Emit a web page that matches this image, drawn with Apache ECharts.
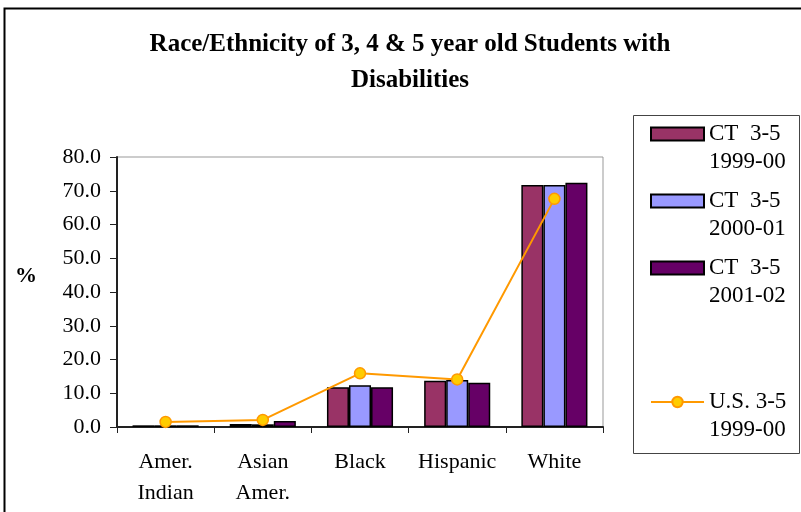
<!DOCTYPE html>
<html>
<head>
<meta charset="utf-8">
<script src="https://cdn.jsdelivr.net/npm/echarts@6/dist/echarts.min.js"></script>
<style>html,body{margin:0;padding:0;background:#fff;}#c{width:801px;height:512px;}</style>
</head>
<body>
<div id="c"></div>
<script>
const categories = ['Amer.\nIndian', 'Asian\nAmer.', 'Black', 'Hispanic', 'White'];
const ct1999 = [0.5, 0.9, 11.8, 13.7, 71.7];
const ct2000 = [0.5, 0.8, 12.4, 13.9, 71.7];
const ct2001 = [0.5, 1.8, 11.8, 13.1, 72.4];
const us1999 = [1.5, 2.1, 15.9, 14.1, 67.6];
const seriesNames = ['CT  3-5\n1999-00', 'CT  3-5\n2000-01', 'CT  3-5\n2001-02', 'U.S. 3-5\n1999-00'];
const yTicks = [0, 10, 20, 30, 40, 50, 60, 70, 80];

const FONT = '"Liberation Serif", "Times New Roman", serif';
const chart = echarts.init(document.getElementById('c'), null, {renderer: 'canvas'});

const barStyle = (color) => ({color: color, borderColor: '#000', borderWidth: 1.5});
const legendText = {fontFamily: FONT, fontSize: 23, color: '#000', lineHeight: 28};

chart.setOption({
  animation: false,
  backgroundColor: '#fff',
  title: {
    text: 'Race/Ethnicity of 3, 4 & 5 year old Students with\nDisabilities',
    left: 410, top: 27, padding: 0, textAlign: 'center',
    textStyle: {fontFamily: FONT, fontSize: 25, fontWeight: 'bold', color: '#000', lineHeight: 36}
  },
  graphic: [
    {type: 'rect', shape: {x: 4.5, y: 8.5, width: 820, height: 520}, style: {fill: 'none', stroke: '#000', lineWidth: 2}, silent: true, z: -1},
    {type: 'rect', shape: {x: 633.5, y: 115.5, width: 166, height: 338}, style: {fill: 'none', stroke: '#444', lineWidth: 1}, silent: true}
  ],
  legend: [
    {
      data: seriesNames.slice(0, 3).map(n => ({name: n, icon: 'rect'})),
      orient: 'vertical', left: 650, top: 92, padding: 0,
      itemWidth: 53, itemHeight: 13, itemGap: -17,
      formatter: (n) => '\n' + n,
      textStyle: legendText
    },
    {
      data: [seriesNames[3]],
      orient: 'vertical', left: 650, top: 360, padding: 0,
      itemWidth: 53, itemHeight: 13,
      formatter: (n) => '\n' + n,
      textStyle: legendText
    }
  ],
  grid: {left: 117, right: 198, top: 157, bottom: 85, show: true, borderColor: '#999', borderWidth: 1, containLabel: false},
  xAxis: {
    type: 'category', data: categories,
    axisLine: {lineStyle: {color: '#222', width: 2}},
    axisTick: {show: true, length: 6, lineStyle: {color: '#222', width: 1}},
    axisLabel: {interval: 0, hideOverlap: false, fontFamily: FONT, fontSize: 22, color: '#000', lineHeight: 31, margin: 20}
  },
  yAxis: {
    type: 'value', min: 0, max: 80, interval: 10,
    name: '%', nameLocation: 'middle', nameRotate: 0, nameGap: 80,
    nameTextStyle: {fontFamily: FONT, fontSize: 22, fontWeight: 'bold', color: '#000', verticalAlign: 'bottom', lineHeight: 32},
    axisLine: {show: true, lineStyle: {color: '#222', width: 2}},
    axisTick: {show: true, length: 7, lineStyle: {color: '#222', width: 1}},
    splitLine: {show: false},
    axisLabel: {fontFamily: FONT, fontSize: 22, color: '#000', margin: 16,
      formatter: (v) => yTicks.indexOf(v) >= 0 ? v.toFixed(1) : ''}
  },
  series: [
    {name: seriesNames[0], type: 'bar', data: ct1999, itemStyle: barStyle('#993366'), barGap: '0%', barCategoryGap: '32%'},
    {name: seriesNames[1], type: 'bar', data: ct2000, itemStyle: barStyle('#9999FF'), barGap: '0%', barCategoryGap: '32%'},
    {name: seriesNames[2], type: 'bar', data: ct2001, itemStyle: barStyle('#660066'), barGap: '0%', barCategoryGap: '32%'},
    {name: seriesNames[3], type: 'line', data: us1999, symbol: 'circle', symbolSize: 11,
      lineStyle: {color: '#FF9900', width: 2},
      itemStyle: {color: '#FFCC00', borderColor: '#FF9900', borderWidth: 1.5}, z: 5}
  ]
});
</script>
</body>
</html>
